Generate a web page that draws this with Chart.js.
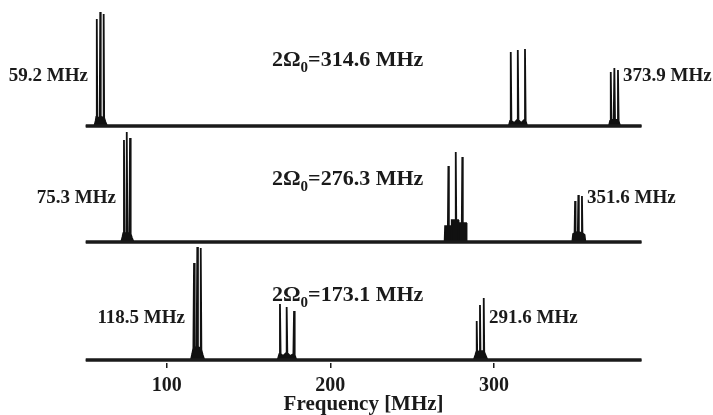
<!DOCTYPE html>
<html>
<head>
<meta charset="utf-8">
<script src="https://cdn.jsdelivr.net/npm/chart.js@4"></script>
<style>
  body { margin: 0; background: #fff; }
  #wrap { width: 713px; height: 415px; }
</style>
</head>
<body>
<div id="wrap"><canvas id="grafico"></canvas></div>
<script>
// Frequency range of the traces and axis ticks (MHz)
const xMin = 50.4;
const xMax = 390.2;
const tickValues = [100, 200, 300];

// Top trace (2Ω0 = 314.6 MHz)
const topFreq = [50.4, 55.8, 56.6, 57.0, 57.3, 57.6, 58.6, 59.1, 59.4, 59.7, 60.6, 61.2, 61.5, 61.8, 62.6, 63.6,
  309.0, 309.8, 310.2, 310.6, 312.3, 314.1, 314.5, 314.9, 316.6, 318.5, 318.9, 319.3, 320.2,
  370.2, 370.9, 371.3, 371.7, 373.1, 373.5, 373.9, 375.3, 375.7, 376.1, 377.0, 390.2];
const topAmp = [0, 0, 5, 9, 107, 9, 7, 10, 114, 10, 7, 9, 112, 8, 4, 0,
  0, 5, 74, 5, 3, 6, 76, 6, 3, 6, 77, 5, 0,
  0, 5, 54, 6, 6, 58, 6, 6, 56, 5, 0, 0];

// Middle trace (2Ω0 = 276.3 MHz)
const midFreq = [50.4, 72.2, 73.0, 73.5, 73.9, 74.3, 75.2, 75.6, 76.0, 77.2, 77.6, 78.0, 78.8, 79.8,
  269.8, 270.1, 271.8, 272.1, 272.4, 273.7, 274.0, 274.3, 276.3, 276.6, 276.9, 278.0, 278.3, 278.6, 280.3, 280.6, 280.9, 282.9, 283.2,
  347.8, 348.3, 349.2, 349.5, 349.8, 351.2, 351.5, 351.8, 353.4, 353.7, 354.0, 355.3, 355.8, 390.2];
const midAmp = [0, 0, 5, 9, 102, 9, 9, 110, 9, 9, 104, 8, 4, 0,
  0, 16, 16, 76, 16, 16, 2, 22, 22, 90, 22, 22, 2, 19, 19, 85, 19, 19, 0,
  0, 8, 9, 41, 9, 10, 47, 10, 9, 46, 9, 7, 0, 0];

// Bottom trace (2Ω0 = 173.1 MHz)
const botFreq = [50.4, 114.8, 115.6, 116.3, 116.7, 117.1, 118.3, 118.7, 119.1, 120.4, 120.8, 121.2, 122.0, 123.0,
  167.8, 168.8, 169.2, 169.6, 171.0, 172.9, 173.3, 173.7, 175.5, 177.4, 177.8, 178.2, 179.2,
  287.6, 288.6, 289.1, 289.4, 289.7, 291.1, 291.4, 291.7, 293.4, 293.7, 294.0, 295.0, 296.0, 390.2];
const botAmp = [0, 0, 6, 12, 97, 12, 13, 113, 13, 12, 112, 10, 5, 0,
  0, 6, 56, 6, 4, 7, 53, 7, 4, 6, 49, 5, 0,
  0, 5, 8, 39, 8, 9, 55, 9, 9, 62, 8, 4, 0, 0];

// Texts
const centreLabels = ['314.6 MHz', '276.3 MHz', '173.1 MHz'];
const sideLabels = ['59.2 MHz', '373.9 MHz', '75.3 MHz', '351.6 MHz', '118.5 MHz', '291.6 MHz'];

const FONTE = '"Liberation Serif", "Times New Roman", serif';
const PRETO = '#1a1a1a';
// vertical offset of each trace (in y units = px)
const offsets = [234, 118, 0];

function pontos(freq, amp, off) {
  return freq.map((f, i) => ({ x: f, y: amp[i] + off }));
}

function linhaBase(off) {
  return {
    data: [{ x: xMin, y: off }, { x: xMax, y: off }],
    borderColor: PRETO, borderWidth: 3.5, pointRadius: 0
  };
}

// idxBase = index of the baseline dataset to fill down to
function traco(freq, amp, off, idxBase) {
  return {
    data: pontos(freq, amp, off),
    borderColor: '#111', borderWidth: 1.8, pointRadius: 0, tension: 0,
    fill: idxBase, backgroundColor: '#111'
  };
}

// draws the frequency annotations
const rotulos = {
  id: 'rotulos',
  afterDraw(chart) {
    const ctx = chart.ctx;
    ctx.save();
    ctx.fillStyle = PRETO;
    ctx.textBaseline = 'alphabetic';

    // centre labels 2Ω0=...
    const baseCentro = [66, 185, 301];
    centreLabels.forEach((txt, i) => {
      let x = 272;
      const y = baseCentro[i];
      ctx.textAlign = 'left';
      ctx.font = 'bold 22px ' + FONTE;
      ctx.fillText('2Ω', x, y);
      x += ctx.measureText('2Ω').width;
      ctx.font = 'bold 15px ' + FONTE;
      ctx.fillText('0', x, y + 6);
      x += ctx.measureText('0').width;
      ctx.font = 'bold 22px ' + FONTE;
      ctx.fillText('=' + txt, x, y);
    });

    // side labels
    ctx.font = 'bold 19px ' + FONTE;
    const pos = [
      { x: 88, y: 81, a: 'right' },
      { x: 623, y: 81, a: 'left' },
      { x: 116, y: 203, a: 'right' },
      { x: 587, y: 203, a: 'left' },
      { x: 185, y: 323, a: 'right' },
      { x: 489, y: 323, a: 'left' }
    ];
    sideLabels.forEach((txt, i) => {
      ctx.textAlign = pos[i].a;
      ctx.fillText(txt, pos[i].x, pos[i].y);
    });
    ctx.restore();
  }
};

new Chart(document.getElementById('grafico'), {
  type: 'line',
  data: {
    datasets: [
      linhaBase(offsets[0]), linhaBase(offsets[1]), linhaBase(offsets[2]),
      traco(topFreq, topAmp, offsets[0], 0),
      traco(midFreq, midAmp, offsets[1], 1),
      traco(botFreq, botAmp, offsets[2], 2)
    ]
  },
  options: {
    responsive: true,
    maintainAspectRatio: false,
    animation: false,
    layout: { padding: { left: 85.5, right: 71.3, top: 0, bottom: 0 } },
    plugins: { legend: { display: false }, tooltip: { enabled: false } },
    scales: {
      x: {
        type: 'linear',
        min: xMin,
        max: xMax,
        border: { display: false },
        grid: { drawOnChartArea: false, drawTicks: true, tickLength: 5, color: PRETO, lineWidth: 1.5 },
        afterBuildTicks: sc => { sc.ticks = tickValues.map(v => ({ value: v })); },
        ticks: {
          color: PRETO,
          padding: 8,
          font: { family: FONTE, size: 20, weight: 'bold', lineHeight: 1 }
        },
        title: {
          display: true,
          text: 'Frequency [MHz]',
          color: PRETO,
          // negative top padding: title stays anchored at the bottom edge
          padding: { top: -9, bottom: 0 },
          font: { family: FONTE, size: 21, weight: 'bold', lineHeight: 0.95 }
        }
      },
      y: { display: false, min: -3, max: 360 }
    }
  },
  plugins: [rotulos]
});
</script>
</body>
</html>
